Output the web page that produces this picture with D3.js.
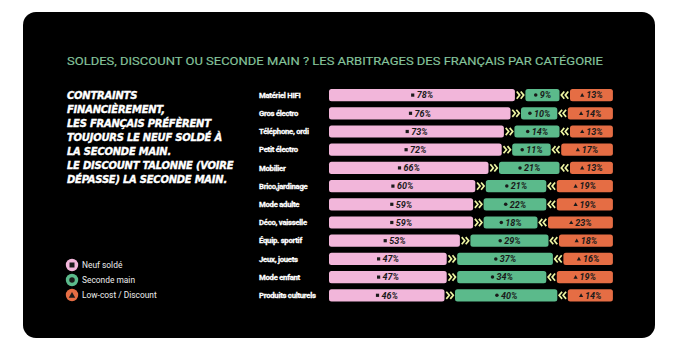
<!DOCTYPE html>
<html>
<head>
<meta charset="utf-8">
<script src="https://cdn.jsdelivr.net/npm/d3@7"></script>
<style>
  body { margin: 0; background: #fff; }
  svg { display: block; }
</style>
</head>
<body>
<div id="chart"></div>
<script>
// data
const title = "SOLDES, DISCOUNT OU SECONDE MAIN ? LES ARBITRAGES DES FRANÇAIS PAR CATÉGORIE";
const introLines = [
  "CONTRAINTS",
  "FINANCIÈREMENT,",
  "LES FRANÇAIS PRÉFÈRENT",
  "TOUJOURS LE NEUF SOLDÉ À",
  "LA SECONDE MAIN.",
  "LE DISCOUNT TALONNE (VOIRE",
  "DÉPASSE) LA SECONDE MAIN."
];
const categories = [
  "Matériel HIFI", "Gros électro", "Téléphone, ordi", "Petit électro",
  "Mobilier", "Brico,jardinage", "Mode adulte", "Déco, vaisselle",
  "Équip. sportif", "Jeux, jouets", "Mode enfant", "Produits culturels"
];
const neufSolde   = [78, 76, 73, 72, 66, 60, 59, 59, 53, 47, 47, 46];
const secondeMain = [9, 10, 14, 11, 21, 21, 22, 18, 29, 37, 34, 40];
const lowCost     = [13, 14, 13, 17, 13, 19, 19, 23, 18, 16, 19, 14];
const legendLabels = ["Neuf soldé", "Seconde main", "Low-cost / Discount"];

// layout
const width = 680;
const height = 352;
const colors = ["#f2b6da", "#5bba8b", "#e56d44"];
const chevronColor = "#eef5a2";
const ink = "#1a1a1a";

const svg = d3.select("#chart")
  .append("svg")
  .attr("width", width)
  .attr("height", height);

// card
svg.append("rect")
  .attr("x", 23).attr("y", 12)
  .attr("width", 632).attr("height", 326)
  .attr("rx", 13)
  .attr("fill", "#000");

// title
svg.append("text")
  .attr("x", 67).attr("y", 65)
  .attr("textLength", 536)
  .attr("lengthAdjust", "spacingAndGlyphs")
  .style("font-family", "Roboto, sans-serif")
  .style("font-size", "11px")
  .attr("fill", "#86c49c")
  .attr("stroke", "#86c49c")
  .attr("stroke-width", 0.15)
  .text(title);

// intro text
svg.append("g")
  .selectAll("text")
  .data(introLines)
  .join("text")
  .attr("x", 67)
  .attr("y", (d, i) => 99 + i * 14)
  .style("font-family", "'DejaVu Sans', sans-serif")
  .style("font-size", "10px")
  .style("font-weight", "700")
  .style("font-style", "italic")
  .style("letter-spacing", "-0.25px")
  .attr("fill", "#fff")
  .attr("stroke", "#fff")
  .attr("stroke-width", 0.35)
  .text(d => d);

// scales
const yScale = d3.scaleBand()
  .domain(categories)
  .range([86, 304.4])
  .paddingInner(0.33)
  .paddingOuter(0.165);

// segment widths: small floor + proportional part
const wScale = d3.scaleLinear().domain([0, 100]).range([14.3, 234.3]);
const x0 = 329;
const gap = 10.5;

const rows = categories.map((c, i) => {
  const vals = [neufSolde[i], secondeMain[i], lowCost[i]];
  let x = x0;
  const segs = vals.map((v, k) => {
    const w = wScale(v);
    const s = { cat: c, k, v, x, w };
    x += w + gap;
    return s;
  });
  return { cat: c, segs };
});

// category labels
svg.append("g")
  .selectAll("text")
  .data(categories)
  .join("text")
  .attr("x", 259)
  .attr("y", d => yScale(d) + yScale.bandwidth() / 2)
  .attr("dy", "0.35em")
  .style("font-family", "Roboto, sans-serif")
  .style("font-size", "7.7px")
  .style("font-weight", "700")
  .style("letter-spacing", "-0.25px")
  .attr("fill", "#fff")
  .attr("stroke", "#fff")
  .attr("stroke-width", 0.3)
  .text(d => d);

// marker shapes
function drawMarker(sel, k, cx, cy, s) {
  if (k === 0) {
    sel.append("rect")
      .attr("x", cx - s).attr("y", cy - s)
      .attr("width", 2 * s).attr("height", 2 * s)
      .attr("fill", ink);
  } else if (k === 1) {
    sel.append("circle")
      .attr("cx", cx).attr("cy", cy).attr("r", s * 1.1)
      .attr("fill", ink);
  } else {
    sel.append("path")
      .attr("d", `M${cx},${cy - s * 1.3}L${cx + s * 1.3},${cy + s}L${cx - s * 1.3},${cy + s}Z`)
      .attr("fill", ink);
  }
}

const rowG = svg.append("g")
  .selectAll("g")
  .data(rows)
  .join("g")
  .attr("transform", d => `translate(0,${yScale(d.cat)})`);

const bh = yScale.bandwidth();

rowG.each(function (row) {
  const g = d3.select(this);
  row.segs.forEach(s => {
    g.append("rect")
      .attr("x", s.x).attr("y", 0)
      .attr("width", s.w).attr("height", bh)
      .attr("rx", 2.5)
      .attr("fill", colors[s.k]);

    const cx = s.x + s.w / 2;
    const label = g.append("text")
      .attr("x", cx + 3)
      .attr("y", bh / 2)
      .attr("dy", "0.36em")
      .attr("text-anchor", "middle")
      .style("font-family", "Roboto, sans-serif")
      .style("font-size", "9px")
      .style("font-weight", "700")
      .style("font-style", "italic")
      .attr("fill", ink)
      .text(s.v + "%");
    const tw = label.node().getComputedTextLength();
    drawMarker(g, s.k, cx + 3 - tw / 2 - 4, bh / 2, 1.6);
  });

  // chevrons between segments
  const cy = bh / 2;
  const gx1 = row.segs[0].x + row.segs[0].w;
  [1.8, 5.8].forEach(off => {
    g.append("path")
      .attr("d", `M${gx1 + off},${cy - 3.6}L${gx1 + off + 3},${cy}L${gx1 + off},${cy + 3.6}`)
      .attr("fill", "none")
      .attr("stroke", chevronColor)
      .attr("stroke-width", 1.7);
  });
  const gx2 = row.segs[1].x + row.segs[1].w;
  [1.8, 5.8].forEach(off => {
    g.append("path")
      .attr("d", `M${gx2 + off + 3},${cy - 3.6}L${gx2 + off},${cy}L${gx2 + off + 3},${cy + 3.6}`)
      .attr("fill", "none")
      .attr("stroke", chevronColor)
      .attr("stroke-width", 1.7);
  });
});

// legend
const legend = svg.append("g")
  .selectAll("g")
  .data(legendLabels)
  .join("g")
  .attr("transform", (d, i) => `translate(72,${265 + i * 15})`);

legend.append("circle")
  .attr("r", 6.2)
  .attr("fill", (d, i) => colors[i]);

legend.each(function (d, i) {
  drawMarker(d3.select(this), i, 0, i === 2 ? 0.3 : 0, 2.5);
});

legend.append("text")
  .attr("x", 10)
  .attr("dy", "0.35em")
  .style("font-family", "Roboto, sans-serif")
  .style("font-size", "8.4px")
  .attr("fill", "#eee")
  .text(d => d);
</script>
</body>
</html>
